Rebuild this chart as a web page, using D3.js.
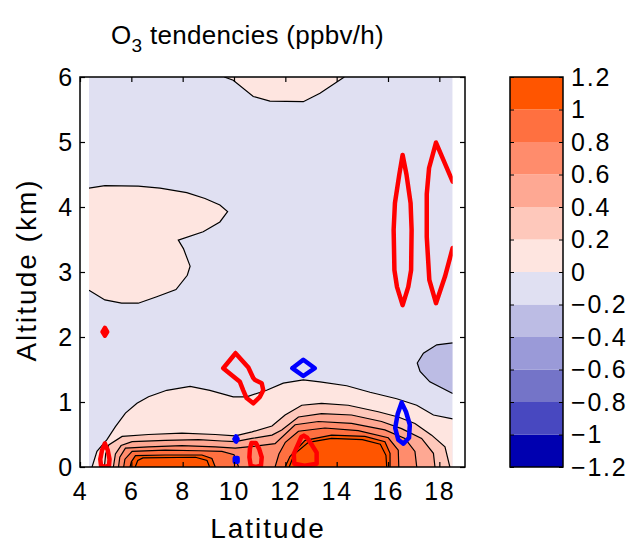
<!DOCTYPE html>
<html><head><meta charset="utf-8">
<script src="https://cdn.jsdelivr.net/npm/d3@7"></script>
<style>body{margin:0;background:#fff} text{font-family:"Liberation Sans",Arial,sans-serif;fill:#000}</style>
</head><body><svg id="c" width="635" height="544"></svg>
<script>
// ---- data ----
const xTicks = [4, 6, 8, 10, 12, 14, 16, 18];
const yTicks = [0, 1, 2, 3, 4, 5, 6];
const cbLevels = [-1.2, -1, -0.8, -0.6, -0.4, -0.2, 0, 0.2, 0.4, 0.6, 0.8, 1, 1.2];
const cbColors = ["#0000b0", "#4848c0", "#7474c8", "#9a9ad8", "#bcbce4", "#e0e0f2",
                  "#fee5e0", "#fec8bb", "#fea893", "#ff8c6c", "#ff7040", "#ff5500"];
const latRange = [4.35, 18.52];
const altRange = [0, 6];

// filled-contour boundaries, [latitude, altitude]
const bump0 = [[9.62,6],[9.97,5.95],[10.75,5.70],[11.4,5.63],[12.7,5.62],[13.35,5.75],[14.3,6]];
const lobe0 = [[4.35,4.29],[4.97,4.33],[6.27,4.32],[7.12,4.29],[8.16,4.22],[8.87,4.13],[9.45,4.03],[9.75,3.93],
               [9.45,3.77],[8.80,3.62],[7.83,3.49],[8.03,3.36],[8.29,3.09],[8.18,2.95],[7.74,2.73],[6.99,2.62],
               [6.27,2.52],[5.62,2.52],[4.97,2.57],[4.35,2.72]];
const negA = [[18.52,1.91],[17.9,1.88],[17.38,1.75],[17.14,1.6],[17.25,1.47],[17.63,1.31],[18.52,1.13]];
const base0 = [[4.47,0],[4.66,0.24],[5.05,0.42],[5.38,0.62],[5.77,0.83],[6.22,0.98],[6.67,1.08],[7.38,1.18],
               [8.29,1.24],[9.06,1.18],[9.97,1.08],[10.49,1.08],[11.27,1.18],[11.92,1.29],[12.7,1.34],[13.35,1.31],
               [14.39,1.25],[15.3,1.15],[16.34,1.05],[17.12,0.95],[17.77,0.8],[18.52,0.74]];
const base02 = [[4.95,0],[5.0,0.2],[5.12,0.34],[5.64,0.47],[6.67,0.5],[7.97,0.52],[9.27,0.5],[10.05,0.48],[10.7,0.54],
                [11.48,0.63],[11.99,0.8],[12.64,0.95],[13.41,0.98],[14.45,0.95],[15.62,0.85],[16.4,0.77],
                [17.05,0.67],[17.7,0.49],[18.22,0.31],[18.41,0]];
const base04 = [[5.3,0],[5.38,0.2],[5.6,0.33],[6.03,0.39],[7.32,0.41],[8.62,0.42],[9.53,0.4],[10.05,0.39],[10.7,0.44],
                [11.48,0.49],[11.86,0.57],[12.51,0.77],[13.41,0.82],[14.58,0.8],[15.75,0.7],[16.53,0.59],
                [17.31,0.44],[17.77,0.21],[17.83,0]];
const base06 = [[5.5,0],[5.55,0.15],[5.77,0.29],[6.67,0.31],[7.97,0.33],[9.27,0.31],[10.05,0.29],[10.83,0.32],
                [11.6,0.36],[12.38,0.65],[13.29,0.7],[14.58,0.67],[15.88,0.57],[16.66,0.44],[17.05,0.24],[17.12,0]];
const left08 = [[5.7,0],[5.75,0.12],[6.03,0.24],[7.32,0.26],[8.62,0.25],[9.53,0.24],[10.0,0.19],[10.18,0]];
const right08 = [[11.6,0],[11.75,0.2],[12.0,0.38],[12.51,0.55],[13.54,0.6],[14.84,0.56],[16.01,0.45],[16.4,0.26],[16.42,0]];
const left10 = [[5.95,0],[6.0,0.08],[6.16,0.175],[7.32,0.185],[8.75,0.185],[9.14,0.13],[9.27,0]];
const right10 = [[11.99,0],[12.18,0.16],[12.77,0.41],[13.8,0.49],[15.1,0.47],[15.88,0.39],[16.08,0.21],[16.08,0]];
const left12 = [[6.15,0],[6.25,0.1],[6.45,0.14],[8.5,0.15],[8.95,0.1],[9.05,0]];
const right12 = [[12.15,0],[12.35,0.2],[12.9,0.38],[13.8,0.44],[15.0,0.42],[15.7,0.35],[15.92,0.18],[15.95,0]];

// thick overlay contours (red = positive, blue = negative)
const red1 = [[4.88,2.08],[4.97,2.14],[5.06,2.08],[4.97,2.02],[4.88,2.08]];
const red2 = [[4.97,0.36],[5.08,0.26],[5.15,0.12],[5.13,0.02],[4.97,0.0],[4.82,0.02],[4.79,0.12],[4.86,0.26],[4.97,0.36]];
const red3 = [[10.06,1.75],[10.56,1.53],[10.75,1.37],[10.82,1.34],[11.08,1.29],[11.14,1.18],[11.01,1.08],[10.75,0.98],
              [10.49,1.06],[10.36,1.18],[10.23,1.31],[9.58,1.52],[10.06,1.75]];
const red4 = [[10.68,0.37],[10.85,0.37],[10.98,0.28],[11.08,0.15],[11.05,0.02],[10.85,0.0],[10.65,0.02],[10.6,0.15],[10.62,0.28],[10.68,0.37]];
const red5 = [[12.72,0.48],[12.85,0.45],[13.05,0.33],[13.22,0.22],[13.22,0.05],[12.75,0.02],[12.35,0.05],[12.33,0.2],[12.5,0.35],[12.62,0.46],[12.72,0.48]];
const red6 = [[16.57,4.8],[16.72,4.5],[16.88,4.06],[16.92,3.65],[16.9,3.03],[16.79,2.77],[16.57,2.49],[16.35,2.77],[16.25,3.03],
              [16.22,3.65],[16.27,4.06],[16.44,4.5],[16.57,4.8]];
const red7 = [[18.52,4.39],[17.87,4.99],[17.6,4.6],[17.51,4.2],[17.51,3.54],[17.61,2.88],[17.87,2.52],[18.22,2.93],[18.52,3.37]];
const blue1 = [[12.27,1.52],[12.7,1.65],[13.15,1.52],[12.7,1.40],[12.27,1.52]];
const blue2 = [[16.53,0.99],[16.7,0.85],[16.85,0.65],[16.82,0.45],[16.6,0.36],[16.4,0.42],[16.28,0.6],[16.38,0.82],[16.53,0.99]];
const blue3 = [[10.02,0.43],[10.08,0.47],[10.14,0.43],[10.08,0.39],[10.02,0.43]];
const blue4 = [[10.03,0.08],[10.14,0.08],[10.14,0.14],[10.03,0.14],[10.03,0.08]];

// ---- layout ----
const svg = d3.select("#c");
const x = d3.scaleLinear().domain([4, 19]).range([80, 465]);
const y = d3.scaleLinear().domain([0, 6]).range([467, 77]);
const FS = 25, LS = 1.8;

const filled = [
  {lv: 0, pts: bump0}, {lv: 0, pts: lobe0}, {lv: 0, pts: base0.concat([[latRange[1], 0]])},
  {lv: -0.2, pts: negA},
  {lv: 0.2, pts: base02}, {lv: 0.4, pts: base04}, {lv: 0.6, pts: base06},
  {lv: 0.8, pts: left08}, {lv: 0.8, pts: right08},
  {lv: 1.0, pts: left10}, {lv: 1.0, pts: right10},
  {lv: 1.2, pts: left12}, {lv: 1.2, pts: right12}
];
const lines = [bump0, lobe0, base0, negA, base02, base04, base06, left08, right08, left10, right10, left12, right12];
const reds = [red1, red2, red3, red4, red5, red6, red7];
const blues = [blue1, blue2, blue3, blue4];

function bandColor(lv) {
  const i = cbLevels.findIndex(v => Math.abs(v - lv) < 1e-9);
  if (lv >= 0) return cbColors[Math.min(i, cbColors.length - 1)];
  return cbColors[i - 1];
}

const line = d3.line().x(d => x(d[0])).y(d => y(d[1]));
svg.append("clipPath").attr("id", "dc").append("rect")
  .attr("x", x(latRange[0])).attr("y", y(altRange[1]))
  .attr("width", x(latRange[1]) - x(latRange[0])).attr("height", y(altRange[0]) - y(altRange[1]));

const g = svg.append("g").attr("clip-path", "url(#dc)");
g.append("rect").attr("x", x(latRange[0])).attr("y", y(altRange[1]))
  .attr("width", x(latRange[1]) - x(latRange[0])).attr("height", y(altRange[0]) - y(altRange[1]))
  .attr("fill", cbColors[5]);
g.selectAll("path.f").data(filled).join("path").attr("class", "f")
  .attr("d", d => line(d.pts) + "Z").attr("fill", d => bandColor(d.lv)).attr("stroke", "none");
g.selectAll("path.l").data(lines).join("path").attr("class", "l")
  .attr("d", d => line(d)).attr("fill", "none").attr("stroke", "#000").attr("stroke-width", 1.2);
g.selectAll("path.r").data(reds).join("path").attr("class", "r")
  .attr("d", d => line(d)).attr("fill", "none").attr("stroke", "#ff0000").attr("stroke-width", 4.5)
  .attr("stroke-linejoin", "round").attr("stroke-linecap", "round");
g.selectAll("path.b").data(blues).join("path").attr("class", "b")
  .attr("d", d => line(d)).attr("fill", "none").attr("stroke", "#0000ff").attr("stroke-width", 4.5)
  .attr("stroke-linejoin", "round").attr("stroke-linecap", "round");

// axes box + inward ticks
const ax = svg.append("g");
ax.append("rect").attr("x", 80).attr("y", 77).attr("width", 385).attr("height", 390)
  .attr("fill", "none").attr("stroke", "#000").attr("stroke-width", 1.5);
const axB = d3.axisBottom(x).tickValues(xTicks).tickSize(-5).tickPadding(15).tickFormat(d3.format("d"));
const axT = d3.axisTop(x).tickValues(xTicks).tickSize(-5).tickFormat("");
const axL = d3.axisLeft(y).tickValues(yTicks).tickSize(-5).tickPadding(6).tickFormat(d3.format("d"));
const axR = d3.axisRight(y).tickValues(yTicks).tickSize(-5).tickFormat("");
[[axB, "translate(0,467)"], [axT, "translate(0,77)"], [axL, "translate(80,0)"], [axR, "translate(465,0)"]].forEach(([a, t]) => {
  const s = ax.append("g").attr("transform", t).call(a);
  s.select(".domain").remove();
  s.selectAll("line").attr("stroke", "#000").attr("stroke-width", 1.2);
  s.selectAll("text").attr("font-size", FS).attr("letter-spacing", LS)
    .attr("font-family", "Liberation Sans, Arial, sans-serif");
});

// colorbar
const cb = svg.append("g");
const cy = d3.scaleLinear().domain([-1.2, 1.2]).range([467, 77]);
cb.selectAll("rect.c").data(cbColors).join("rect").attr("class", "c")
  .attr("x", 510).attr("width", 53)
  .attr("y", (d, i) => cy(cbLevels[i + 1])).attr("height", (d, i) => cy(cbLevels[i]) - cy(cbLevels[i + 1]))
  .attr("fill", d => d);
cb.append("rect").attr("x", 510).attr("y", 77).attr("width", 53).attr("height", 390)
  .attr("fill", "none").attr("stroke", "#000").attr("stroke-width", 1.5);
const cbA = d3.axisRight(cy).tickValues(cbLevels).tickSize(-4).tickPadding(8)
  .tickFormat(d => (d < 0 ? "\u2212" : "") + d3.format("")(Math.abs(d)));
const cbs = cb.append("g").attr("transform", "translate(563,0)").call(cbA);
cbs.select(".domain").remove();
cbs.selectAll("line").attr("stroke", "#000");
cbs.selectAll("text").attr("font-size", FS).attr("letter-spacing", LS)
  .attr("font-family", "Liberation Sans, Arial, sans-serif");
const cbL = d3.axisLeft(cy).tickValues(cbLevels).tickSize(-4).tickFormat("");
const cbl = cb.append("g").attr("transform", "translate(510,0)").call(cbL);
cbl.select(".domain").remove();
cbl.selectAll("line").attr("stroke", "#000");

// titles
const t = svg.append("text").attr("x", 111).attr("y", 44).attr("font-size", 26).attr("letter-spacing", 0.3);
t.append("tspan").text("O");
t.append("tspan").attr("font-size", 19).attr("dy", 8).text("3");
t.append("tspan").attr("dy", -8).text(" tendencies (ppbv/h)");
svg.append("text").attr("x", 268).attr("y", 538).attr("text-anchor", "middle").attr("font-size", 28)
  .attr("letter-spacing", 2).text("Latitude");
svg.append("text").attr("transform", "translate(36,270) rotate(-90)").attr("text-anchor", "middle")
  .attr("font-size", 28).attr("letter-spacing", 2).text("Altitude (km)");
</script></body></html>
